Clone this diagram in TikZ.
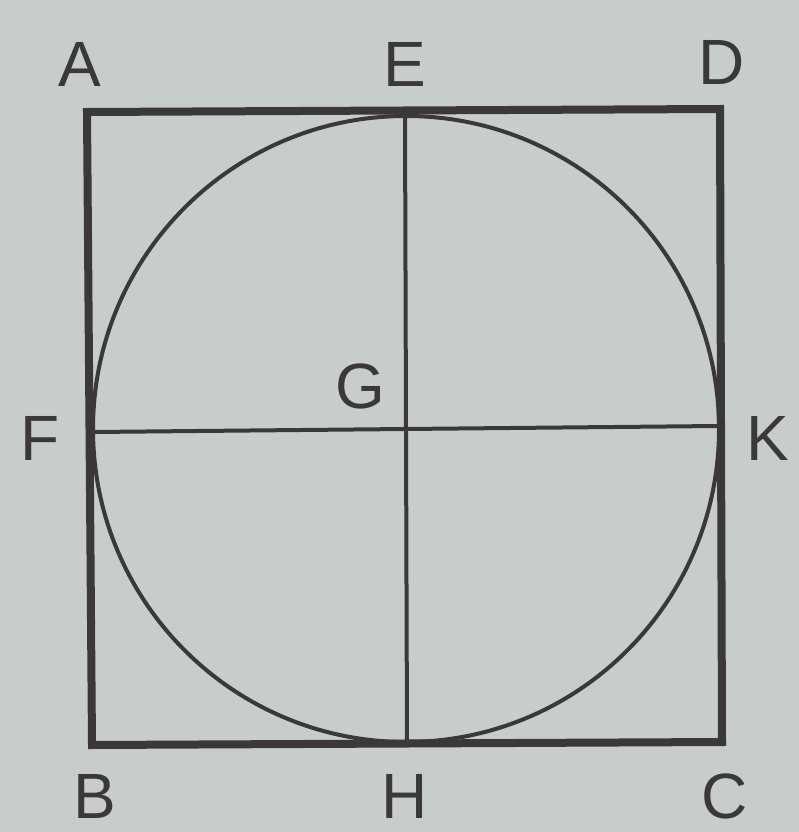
\documentclass[tikz,border=0pt]{standalone}
\usepackage{fontspec}
\setmainfont{Liberation Sans}
\definecolor{bg}{RGB}{200,205,204}
\definecolor{ink}{RGB}{58,56,56}
\begin{document}
\begin{tikzpicture}[x=1pt,y=-1pt,
  lbl/.style={text=ink,font=\fontsize{64}{64}\selectfont,inner sep=0pt},
  thick line/.style={draw=ink,line width=8pt,line join=miter},
  thin line/.style={draw=ink,line width=4pt}]
\fill[bg] (0,0) rectangle (799,832);
\useasboundingbox (0,0) rectangle (799,832);
\coordinate (A) at (87,112);
\coordinate (D) at (720,109);
\coordinate (C) at (722,742);
\coordinate (B) at (92,745);
\coordinate (E) at (405,116);
\coordinate (H) at (407,742);
\coordinate (F) at (93,432);
\coordinate (K) at (718,426);
\coordinate (G) at (406,429);
\draw[thin line] (G) circle[radius=313];
\draw[thin line] (E) -- (H);
\draw[thin line] (F) -- (K);
\draw[thick line] (A) -- (D) -- (C) -- (B) -- cycle;
\node[lbl] (lA) at (80,64) {A};
\node[lbl] (lE) at (405,64) {E};
\node[lbl] (lD) at (722,62) {D};
\node[lbl] (lF) at (40,438) {F};
\node[lbl] (lG) at (360,386) {G};
\node[lbl] (lK) at (768,438) {K};
\node[lbl] (lB) at (95,796) {B};
\node[lbl] (lH) at (405,796) {H};
\node[lbl] (lC) at (725,796) {C};
\end{tikzpicture}
\end{document}
